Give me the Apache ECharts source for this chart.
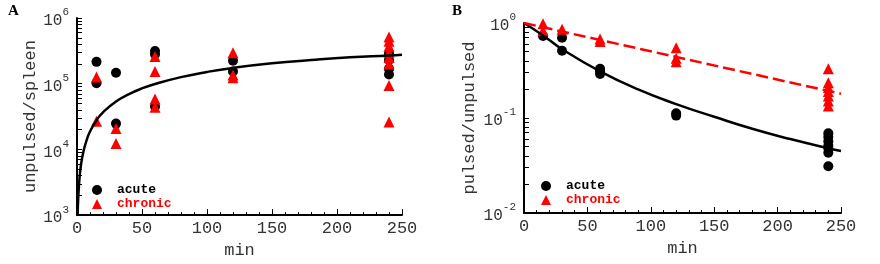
<!DOCTYPE html>
<html><head><meta charset="utf-8">
<script src="https://cdn.jsdelivr.net/npm/echarts@6/dist/echarts.min.js"></script>
<style>html,body{margin:0;padding:0;background:#fff}#c{width:880px;height:264px}</style>
</head><body><div id="c"></div>
<script>
// ---------- data ----------
const xTicks = [0, 50, 100, 150, 200, 250];
const aYTicks = [1e3, 1e4, 1e5, 1e6];
const bYTicks = [1e-2, 1e-1, 1];

// Panel A: unpulsed/spleen
const aAcute = [[15,215000],[15,102000],[30,147000],[30,24700],[60,314000],[60,280000],[60,45000],
  [120,223000],[120,153000],[240,287000],[240,168000],[240,138000],[240,230000]];
const aChronic = [[15,126000],[15,26800],[30,20800],[30,12300],[60,259000],[60,153000],[60,58400],[60,43700],
  [120,297000],[120,136000],[120,123000],
  [240,515000],[240,443000],[240,373000],[240,300000],[240,250000],[240,199000],[240,94000],[240,26200]];
const aFitT = [0.5,1,2,3,5,7.5,10,15,20,30,40,50,60,80,100,120,150,180,210,240,250];
const aFitV = [1000,1900,3800,5700,9400,14000,18700,27800,36600,53600,69500,84800,99000,126000,151000,174000,204000,229000,252000,268000,275000];

// Panel B: pulsed/unpulsed
const bAcute = [[15,0.73],[30,0.70],[30,0.51],[60,0.33],[60,0.31],[60,0.29],[120,0.112],[120,0.106],
  [240,0.069],[240,0.063],[240,0.057],[240,0.051],[240,0.048],[240,0.043],[240,0.031]];
const bChronic = [[15,0.98],[15,0.83],[30,0.86],[60,0.68],[60,0.64],[120,0.55],[120,0.425],[120,0.39],
  [240,0.33],[240,0.235],[240,0.21],[240,0.19],[240,0.17],[240,0.151],[240,0.134]];
const bAcuteFitT = [0,15,30,60,90,120,150,180,210,240,250];
const bAcuteFitV = [1.0,0.74,0.53,0.31,0.20,0.14,0.103,0.077,0.060,0.048,0.045];
const bChronicFitT = [0,250];
const bChronicFitV = [1.0,0.18];

// ---------- helpers ----------
function minorsOf(majors){ const out=[]; for(let i=0;i<majors.length-1;i++){ for(let k=2;k<=9;k++) out.push(majors[i]*k);} return out; }
function zip(t,v){ return t.map((x,i)=>[x,v[i]]); }
const FONT = 'Liberation Mono';
const labelRich = { b:{fontFamily:FONT,fontSize:16,color:'#333',padding:[6,0,0,0]}, s:{fontFamily:FONT,fontSize:11,color:'#333',verticalAlign:'top'} };
function powFmt(v){ const e=Math.round(Math.log10(v)); return '{b|10}{s|'+e+'}'; }

function xAxisFor(grid){
  return { type:'value', gridIndex:grid, min:0, max:250, interval:50,
    name:'min', nameLocation:'middle', nameGap:19,
    nameTextStyle:{fontFamily:FONT,fontSize:17,color:'#333'},
    axisLine:{lineStyle:{color:'#000',width:2}},
    axisTick:{inside:true,length:6,lineStyle:{color:'#000',width:1}},
    minorTick:{show:true,splitNumber:5,length:3,lineStyle:{color:'#000',width:1}},
    splitLine:{show:false}, minorSplitLine:{show:false},
    axisLabel:{fontFamily:FONT,fontSize:17,color:'#333',margin:5} };
}
function yAxisFor(grid,majors,name,gap){
  return { type:'log', logBase:10, gridIndex:grid, position:'left', min:majors[0], max:majors[majors.length-1],
    name:name, nameLocation:'middle', nameGap:gap,
    nameTextStyle:{fontFamily:FONT,fontSize:17,color:'#333'},
    axisLine:{show:true,lineStyle:{color:'#000',width:2}},
    axisTick:{inside:true,length:5,customValues:majors.concat(minorsOf(majors)),lineStyle:{color:'#000',width:1}},
    axisLabel:{customValues:majors,formatter:powFmt,rich:labelRich,margin:8},
    splitLine:{show:false} };
}
function legendAt(left,top){
  return { left:left, top:top, padding:0, orient:'vertical', itemWidth:10, itemHeight:10, itemGap:0,
    selectedMode:false,
    textStyle:{fontFamily:FONT,fontWeight:'bold',fontSize:13,lineHeight:14,padding:[0,0,0,10]},
    data:[{name:'acute',icon:'circle',textStyle:{color:'#000'}},{name:'chronic',icon:'triangle',textStyle:{color:'#f00'}}] };
}

const chart = echarts.init(document.getElementById('c'), null, {renderer:'canvas'});
chart.setOption({
  animation:false,
  backgroundColor:'#fff',
  grid:[{left:77,top:18,width:325,height:201},{left:524,top:23,width:317,height:190}],
  xAxis:[xAxisFor(0),xAxisFor(1)],
  yAxis:[yAxisFor(0,aYTicks,'unpulsed/spleen',38), yAxisFor(1,bYTicks,'pulsed/unpulsed',46)],
  legend:[legendAt(92,183),legendAt(541,179)],
  graphic:[
    {type:'text',left:8,top:4,style:{text:'A',fontFamily:'Liberation Serif',fontWeight:'bold',fontSize:15,fill:'#000'}},
    {type:'text',left:452,top:4,style:{text:'B',fontFamily:'Liberation Serif',fontWeight:'bold',fontSize:15,fill:'#000'}}
  ],
  series:[
    {name:'acute',type:'scatter',xAxisIndex:0,yAxisIndex:0,symbol:'circle',symbolSize:10,itemStyle:{color:'#000',opacity:1},data:aAcute,z:2},
    {name:'chronic',type:'scatter',xAxisIndex:0,yAxisIndex:0,symbol:'triangle',symbolSize:11,itemStyle:{color:'#f00',opacity:1},data:aChronic,z:3},
    {name:'fitA',type:'line',xAxisIndex:0,yAxisIndex:0,showSymbol:false,symbol:'none',smooth:true,lineStyle:{color:'#000',width:2.5},data:zip(aFitT,aFitV),z:4},
    {name:'acute',type:'scatter',xAxisIndex:1,yAxisIndex:1,symbol:'circle',symbolSize:10,itemStyle:{color:'#000',opacity:1},data:bAcute,z:2},
    {name:'chronic',type:'scatter',xAxisIndex:1,yAxisIndex:1,symbol:'triangle',symbolSize:11,itemStyle:{color:'#f00',opacity:1},data:bChronic,z:3},
    {name:'fitB1',type:'line',xAxisIndex:1,yAxisIndex:1,showSymbol:false,symbol:'none',smooth:true,lineStyle:{color:'#000',width:2.5},data:zip(bAcuteFitT,bAcuteFitV),z:4},
    {name:'fitB2',type:'line',xAxisIndex:1,yAxisIndex:1,showSymbol:false,symbol:'none',lineStyle:{color:'#f00',width:2.5,type:[12,5]},data:zip(bChronicFitT,bChronicFitV),z:4}
  ]
});
</script></body></html>
